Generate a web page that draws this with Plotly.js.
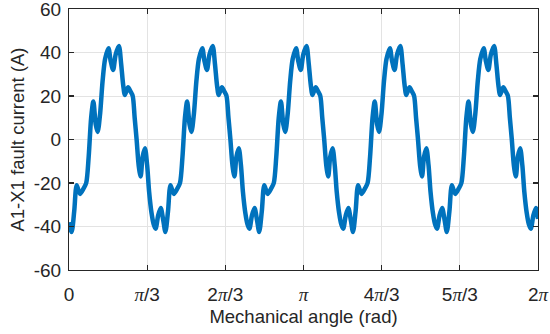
<!DOCTYPE html>
<html>
<head>
<meta charset="utf-8">
<script src="https://cdn.plot.ly/plotly-3.0.1.min.js"></script>
<style>html,body{margin:0;padding:0;background:#fff;}#chart{width:550px;height:334px;}</style>
</head>
<body>
<div id="chart"></div>
<script>
// Mechanical angle in degrees (converted to rad for plotting)
var angleDeg = [0,
  2.0, 4.0, 5.9, 8.4, 11.2, 13.2, 15.1, 17.0, 18.7, 20.5, 22.0, 23.9, 25.8, 27.7, 30.3, 32.0, 33.9, 35.8, 38.3, 40.0, 41.6, 42.9, 45.3, 47.3, 48.9, 50.4, 51.9, 53.5, 55.0, 56.5, 58.3, 60.0, 61.5, 63.4, 65.0, 66.5, 68.4, 70.4, 72.3,
  74.0, 76.0, 77.9, 80.4, 83.2, 85.2, 87.1, 89.0, 90.7, 92.5, 94.0, 95.9, 97.8, 99.7, 102.3, 104.0, 105.9, 107.8, 110.3, 112.0, 113.6, 114.9, 117.3, 119.3, 120.9, 122.4, 123.9, 125.5, 127.0, 128.5, 130.3, 132.0, 133.5, 135.4, 137.0, 138.5, 140.4, 142.4, 144.3,
  146.0, 148.0, 149.9, 152.4, 155.2, 157.2, 159.1, 161.0, 162.7, 164.5, 166.0, 167.9, 169.8, 171.7, 174.3, 176.0, 177.9, 179.8, 182.3, 184.0, 185.6, 186.9, 189.3, 191.3, 192.9, 194.4, 195.9, 197.5, 199.0, 200.5, 202.3, 204.0, 205.5, 207.4, 209.0, 210.5, 212.4, 214.4, 216.3,
  218.0, 220.0, 221.9, 224.4, 227.2, 229.2, 231.1, 233.0, 234.7, 236.5, 238.0, 239.9, 241.8, 243.7, 246.3, 248.0, 249.9, 251.8, 254.3, 256.0, 257.6, 258.9, 261.3, 263.3, 264.9, 266.4, 267.9, 269.5, 271.0, 272.5, 274.3, 276.0, 277.5, 279.4, 281.0, 282.5, 284.4, 286.4, 288.3,
  290.0, 292.0, 293.9, 296.4, 299.2, 301.2, 303.1, 305.0, 306.7, 308.5, 310.0, 311.9, 313.8, 315.7, 318.3, 320.0, 321.9, 323.8, 326.3, 328.0, 329.6, 330.9, 333.3, 335.3, 336.9, 338.4, 339.9, 341.5, 343.0, 344.5, 346.3, 348.0, 349.5, 351.4, 353.0, 354.5, 356.4, 358.4, 360.0];

// A1-X1 fault current (A)
var faultCurrent = [-38,
  -42.5, -33, -21, -25, -22.5, -20, -8, 10, 17.5, 7, 3.5, 12, 27, 37, 42, 36, 32, 39, 43, 35, 25, 20.5, 24, 22, 20, 10, 0, -12, -17, -8, -4, -12, -24, -34, -39, -41, -35, -31.5, -37,
  -42.5, -33, -21, -25, -22.5, -20, -8, 10, 17.5, 7, 3.5, 12, 27, 37, 42, 36, 32, 39, 43, 35, 25, 20.5, 24, 22, 20, 10, 0, -12, -17, -8, -4, -12, -24, -34, -39, -41, -35, -31.5, -37,
  -42.5, -33, -21, -25, -22.5, -20, -8, 10, 17.5, 7, 3.5, 12, 27, 37, 42, 36, 32, 39, 43, 35, 25, 20.5, 24, 22, 20, 10, 0, -12, -17, -8, -4, -12, -24, -34, -39, -41, -35, -31.5, -37,
  -42.5, -33, -21, -25, -22.5, -20, -8, 10, 17.5, 7, 3.5, 12, 27, 37, 42, 36, 32, 39, 43, 35, 25, 20.5, 24, 22, 20, 10, 0, -12, -17, -8, -4, -12, -24, -34, -39, -41, -35, -31.5, -37,
  -42.5, -33, -21, -25, -22.5, -20, -8, 10, 17.5, 7, 3.5, 12, 27, 37, 42, 36, 32, 39, 43, 35, 25, 20.5, 24, 22, 20, 10, 0, -12, -17, -8, -4, -12, -24, -34, -39, -41, -35, -31.5, -36.5];

var xTickVals = [0, Math.PI/3, 2*Math.PI/3, Math.PI, 4*Math.PI/3, 5*Math.PI/3, 2*Math.PI];
var PI = '<span style="font-family:Liberation Serif;font-style:italic">π</span>';
var xTickText = ['0', PI + '/3', '2' + PI + '/3', PI, '4' + PI + '/3', '5' + PI + '/3', '2' + PI];
var yTickVals = [-60, -40, -20, 0, 20, 40, 60];
var yTickText = ['-60', '-40', '-20', '0', '20', '40', '60'];

var xRad = angleDeg.map(function (d) { return d * Math.PI / 180; });

var trace = {
  x: xRad,
  y: faultCurrent,
  type: 'scatter',
  mode: 'lines',
  line: {color: '#0072BD', width: 4.5, shape: 'spline', smoothing: 0.8},
  hoverinfo: 'skip'
};

var FONT = 'Liberation Sans, Arial, sans-serif';
var axisCommon = {
  showline: true, linecolor: '#262626', linewidth: 1, mirror: 'ticks',
  ticks: 'inside', ticklen: 5, tickwidth: 1.2, tickcolor: '#262626',
  showgrid: true, gridcolor: '#e3e3e3', gridwidth: 1, zeroline: false,
  ticklabeloverflow: 'allow',
  tickfont: {family: FONT, size: 19, color: '#262626'}
};

var layout = {
  width: 550, height: 334,
  margin: {l: 69, r: 12, t: 9, b: 64},
  paper_bgcolor: '#ffffff', plot_bgcolor: '#ffffff',
  showlegend: false,
  xaxis: Object.assign({}, axisCommon, {
    range: [0, 2*Math.PI], tickmode: 'array', tickvals: xTickVals, ticktext: xTickText,
    ticklabelstandoff: 7,
    title: {text: 'Mechanical angle (rad)', font: {family: FONT, size: 18.5, color: '#262626'}, standoff: 6}
  }),
  yaxis: Object.assign({}, axisCommon, {
    range: [-60, 60], tickmode: 'array', tickvals: yTickVals, ticktext: yTickText,
    ticklabelstandoff: 3,
    title: {text: 'A1-X1 fault current (A)', font: {family: FONT, size: 18.5, color: '#262626'}, standoff: 4}
  })
};

Plotly.newPlot('chart', [trace], layout, {displayModeBar: false, staticPlot: true});
</script>
</body>
</html>
